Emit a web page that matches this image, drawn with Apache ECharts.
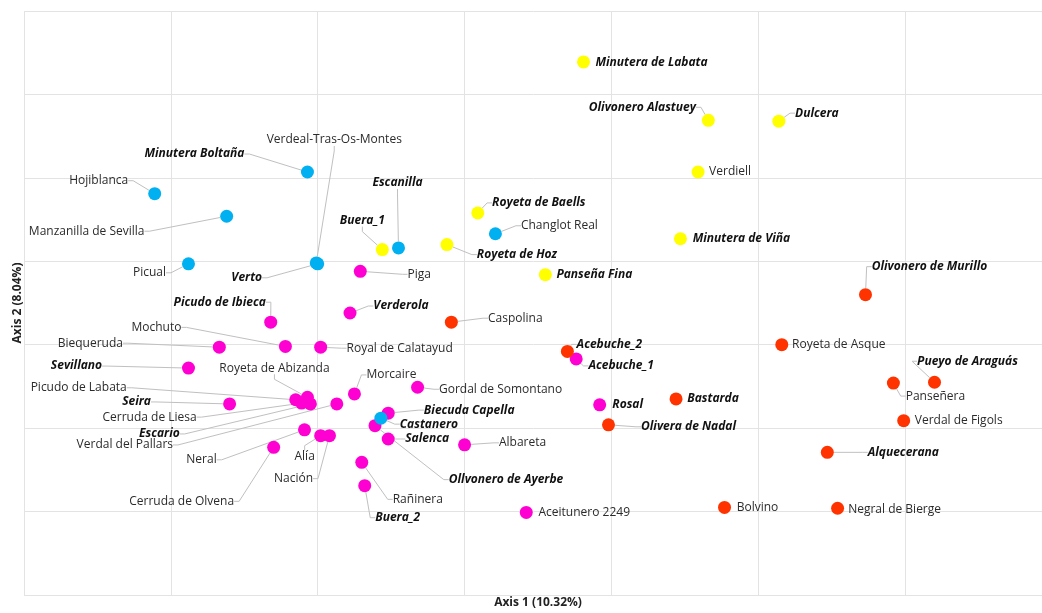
<!DOCTYPE html>
<html>
<head>
<meta charset="utf-8">
<script src="https://cdn.jsdelivr.net/npm/echarts@6/dist/echarts.min.js"></script>
<style>
  html, body { margin: 0; padding: 0; background: #fff; }
  #chart { width: 1042px; height: 613px; }
</style>
</head>
<body>
<div id="chart"></div>
<script>
// variedades y coordenadas en los dos primeros ejes
const names = [
  'Hojiblanca', 'Manzanilla de Sevilla', 'Minutera Boltaña', 'Verdeal-Tras-Os-Montes', 'Verto', 'Picual', 'Escanilla', 'Changlot Real', 'Castanero',
  'Minutera de Labata', 'Olivonero Alastuey', 'Dulcera', 'Verdiell', 'Royeta de Baells', 'Buera_1', 'Royeta de Hoz', 'Minutera de Viña', 'Panseña Fina',
  'Olivonero de Murillo', 'Caspolina', 'Acebuche_2', 'Royeta de Asque', 'Pueyo de Araguás', 'Panseñera', 'Bastarda', 'Olivera de Nadal', 'Verdal de Figols', 'Alquecerana', 'Bolvino', 'Negral de Bierge',
  'Acebuche_1', 'Rosal', 'Aceitunero 2249', 'Albareta', 'Gordal de Somontano', 'Verderola', 'Piga', 'Picudo de Ibieca', 'Mochuto', 'Biequeruda',
  'Royal de Calatayud', 'Sevillano', 'Picudo de Labata', 'Royeta de Abizanda', 'Cerruda de Liesa', 'Escario', 'Seira', 'Verdal del Pallars', 'Morcaire', 'Neral',
  'Cerruda de Olvena', 'Alía', 'Nación', 'Rañinera', 'Buera_2', 'Biecuda Capella', 'Salenca', 'Ollvonero de Ayerbe'
];
const axis1 = [
  -2.11, -1.62, -1.07, -1.01, -1.00, -1.88, -0.45, 0.21, -0.57,
  0.81, 1.66, 2.14, 1.59, 0.09, -0.56, -0.12, 1.47, 0.55,
  2.73, -0.09, 0.70, 2.16, 3.20, 2.92, 1.44, 0.98, 2.99, 2.47, 1.77, 2.54,
  0.76, 0.92, 0.42, 0.00, -0.32, -0.78, -0.71, -1.32, -1.22, -1.67,
  -0.98, -1.88, -1.15, -1.07, -1.11, -1.05, -1.60, -0.87, -0.75, -1.09,
  -1.30, -0.98, -0.92, -0.70, -0.68, -0.52, -0.52, -0.61
];
const axis2 = [
  1.81, 1.54, 2.07, 0.98, 0.97, 0.97, 1.16, 1.33, -0.88,
  3.39, 2.69, 2.68, 2.07, 1.58, 1.14, 1.20, 1.27, 0.84,
  0.60, 0.27, -0.08, 0.00, -0.45, -0.46, -0.65, -0.96, -0.91, -1.29, -1.95, -1.96,
  -0.17, -0.72, -2.01, -1.20, -0.51, 0.38, 0.88, 0.27, -0.02, -0.03,
  -0.03, -0.28, -0.66, -0.63, -0.70, -0.71, -0.71, -0.71, -0.59, -1.02,
  -1.23, -1.09, -1.09, -1.41, -1.69, -0.82, -1.13, -0.97
];
const groups = [
  'A', 'A', 'A', 'A', 'A', 'A', 'A', 'A', 'A',
  'B', 'B', 'B', 'B', 'B', 'B', 'B', 'B', 'B',
  'C', 'C', 'C', 'C', 'C', 'C', 'C', 'C', 'C', 'C', 'C', 'C',
  'D', 'D', 'D', 'D', 'D', 'D', 'D', 'D', 'D', 'D',
  'D', 'D', 'D', 'D', 'D', 'D', 'D', 'D', 'D', 'D',
  'D', 'D', 'D', 'D', 'D', 'D', 'D', 'D'
];
const groupNames = ['D', 'A', 'B', 'C'];

// estilo de etiquetas
const groupColors = { A: '#00b0f0', B: '#ffff00', C: '#ff3300', D: '#ff00d2' };
const boldItalic = [
  'Minutera Boltaña', 'Verto', 'Escanilla', 'Castanero', 'Minutera de Labata', 'Olivonero Alastuey', 'Dulcera',
  'Royeta de Baells', 'Buera_1', 'Royeta de Hoz', 'Minutera de Viña', 'Panseña Fina', 'Olivonero de Murillo',
  'Acebuche_2', 'Pueyo de Araguás', 'Bastarda', 'Olivera de Nadal', 'Alquecerana', 'Acebuche_1', 'Rosal',
  'Verderola', 'Picudo de Ibieca', 'Sevillano', 'Seira', 'Escario', 'Buera_2', 'Biecuda Capella', 'Salenca',
  'Ollvonero de Ayerbe'
];
// etiquetas pegadas al punto, sin línea guía
const noLeader = [
  'Minutera de Labata', 'Verdiell', 'Minutera de Viña', 'Panseña Fina', 'Royeta de Asque', 'Bastarda',
  'Verdal de Figols', 'Bolvino', 'Negral de Bierge', 'Rosal', 'Aceitunero 2249'
];
// desplazamiento de cada etiqueta respecto a su punto (px)
const labelOffsets = {
  'Hojiblanca': [-56, -13], 'Manzanilla de Sevilla': [-140, 15], 'Minutera Boltaña': [-113, -18],
  'Verdeal-Tras-Os-Montes': [18, -123], 'Verto': [-71, 14], 'Picual': [-39, 9], 'Escanilla': [-1, -65],
  'Changlot Real': [64, -8], 'Castanero': [48, 6],
  'Minutera de Labata': [68, 1], 'Olivonero Alastuey': [-66, -13], 'Dulcera': [38, -8], 'Verdiell': [32, 0],
  'Royeta de Baells': [61, -10], 'Buera_1': [-20, -29], 'Royeta de Hoz': [70, 10], 'Minutera de Viña': [61, 0],
  'Panseña Fina': [49, 0],
  'Olivonero de Murillo': [64, -28], 'Caspolina': [64, -4], 'Acebuche_2': [42, -7], 'Royeta de Asque': [57, 0],
  'Pueyo de Araguás': [33, -21], 'Panseñera': [42, 13], 'Bastarda': [37, 0], 'Olivera de Nadal': [80, 2],
  'Verdal de Figols': [55, 0], 'Alquecerana': [76, 0], 'Bolvino': [33, 0], 'Negral de Bierge': [57, 1],
  'Acebuche_1': [45, 7], 'Rosal': [28, 0], 'Aceitunero 2249': [58, 0], 'Albareta': [58, -2],
  'Gordal de Somontano': [83, 2], 'Verderola': [51, -7], 'Piga': [59, 3], 'Picudo de Ibieca': [-51, -20],
  'Mochuto': [-129, -19], 'Biequeruda': [-129, -4], 'Royal de Calatayud': [79, 1], 'Sevillano': [-112, -2],
  'Picudo de Labata': [-217, -12], 'Royeta de Abizanda': [-33, -29], 'Cerruda de Liesa': [-152, 14],
  'Escario': [-151, 30], 'Seira': [-93, -2], 'Verdal del Pallars': [-212, 41], 'Morcaire': [37, -19],
  'Neral': [-103, 30], 'Cerruda de Olvena': [-92, 54], 'Alía': [-16, 21], 'Nación': [-36, 43],
  'Rañinera': [56, 37], 'Buera_2': [33, 32], 'Biecuda Capella': [81, -3], 'Salenca': [39, 0],
  'Ollvonero de Ayerbe': [131, 54]
};

const chart = echarts.init(document.getElementById('chart'));

// índices de los puntos de cada serie, en orden
const seriesIdx = groupNames.map(g => names.map((n, i) => i).filter(i => groups[i] === g));

const makePoint = (i) => {
  const strong = boldItalic.indexOf(names[i]) >= 0;
  return {
    name: names[i],
    value: [axis1[i], axis2[i]],
    label: {
      color: strong ? '#111' : '#2b2b2b',
      fontWeight: strong ? 'bold' : 'normal',
      fontStyle: strong ? 'italic' : 'normal',
      fontSize: 12
    },
    labelLine: { show: noLeader.indexOf(names[i]) < 0 }
  };
};

const series = groupNames.map((g, s) => ({
  type: 'scatter',
  name: g,
  symbolSize: 13,
  itemStyle: { color: groupColors[g], opacity: 1 },
  data: seriesIdx[s].map(makePoint),
  label: {
    show: true,
    position: 'inside',
    formatter: '{b}',
    fontFamily: 'Open Sans'
  },
  labelLine: {
    show: true,
    length2: 5,
    lineStyle: { color: '#c0c0c0', width: 1 }
  },
  labelLayout: function (p) {
    const off = labelOffsets[names[seriesIdx[p.seriesIndex][p.dataIndex]]] || [0, -14];
    return { dx: off[0], dy: off[1] };
  },
  emphasis: { disabled: true },
  animation: false
}));

const axisCommon = {
  type: 'value',
  min: -3,
  max: 4,
  interval: 1,
  axisLine: { show: false },
  axisTick: { show: false },
  axisLabel: { show: false },
  splitLine: { show: true, lineStyle: { color: '#e3e3e3', width: 1 } },
  nameLocation: 'middle',
  nameTextStyle: { fontFamily: 'Open Sans', fontWeight: 'bold', fontSize: 12, color: '#222' }
};

chart.setOption({
  backgroundColor: '#fff',
  animation: false,
  grid: { left: 24, width: 1028, top: 11, bottom: 18, outerBoundsMode: 'none', containLabel: false },
  xAxis: Object.assign({}, axisCommon, { name: 'Axis 1 (10.32%)', nameGap: 2 }),
  yAxis: Object.assign({}, axisCommon, { name: 'Axis 2 (8.04%)', nameGap: 0 }),
  series: series
});
</script>
</body>
</html>
